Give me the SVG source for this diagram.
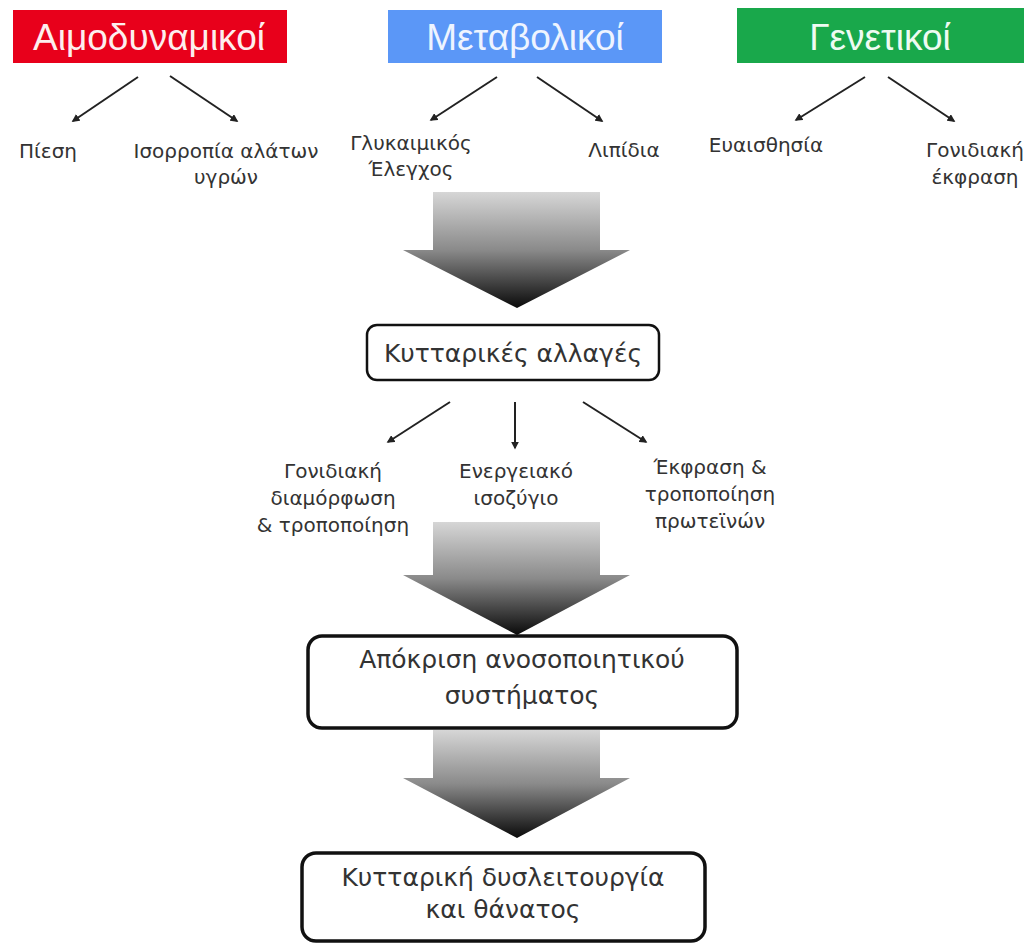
<svg xmlns="http://www.w3.org/2000/svg" width="1030" height="944" viewBox="0 0 1030 944">
<defs>
<style>
.hdr{font-family:"Liberation Sans","DejaVu Sans",sans-serif;font-size:37px;text-anchor:middle}
.lbl{font-family:"DejaVu Sans","Liberation Sans",sans-serif;font-size:20px;fill:#333;text-anchor:middle}
.box{fill:#fff;stroke:#111}
.btx{font-family:"DejaVu Sans","Liberation Sans",sans-serif;font-size:25px;fill:#333;text-anchor:middle}
.ln{stroke:#222;stroke-width:2;fill:none;marker-end:url(#ah)}
.big{fill:url(#g)}
</style>
<marker id="ah" viewBox="0 0 10 10" refX="8" refY="5" markerWidth="4" markerHeight="4" orient="auto">
<path d="M0,0 L10,5 L0,10 z" fill="#222"/>
</marker>
<linearGradient id="g" x1="0" y1="0" x2="0" y2="1">
<stop offset="0" stop-color="#d6d6d6"/>
<stop offset="0.5" stop-color="#8a8a8a"/>
<stop offset="1" stop-color="#0a0a0a"/>
</linearGradient>
</defs>
<rect width="1030" height="944" fill="#fff"/>

<g id="hemodynamic">
<rect x="13" y="10" width="274" height="53" fill="#e8001b"/>
<text class="hdr" x="149" y="50" fill="#fdeeee">Αιμοδυναμικοί</text>
</g>
<g id="metabolic">
<rect x="388" y="10" width="274" height="53" fill="#5b97f7"/>
<text class="hdr" x="525" y="50" fill="#eef4ff">Μεταβολικοί</text>
</g>
<g id="genetic">
<rect x="737" y="8" width="287" height="55" fill="#19a84b"/>
<text class="hdr" x="880" y="50" fill="#eefbf2">Γενετικοί</text>
</g>

<g id="pressure"><text class="lbl" x="48" y="158">Πίεση</text></g>
<g id="salt-balance"><text class="lbl" x="226" y="158">Ισορροπία αλάτων</text><text class="lbl" x="226" y="184">υγρών</text></g>
<g id="glycemic"><text class="lbl" x="411" y="150">Γλυκαιμικός</text><text class="lbl" x="411" y="176">Έλεγχος</text></g>
<g id="lipids"><text class="lbl" x="624" y="157">Λιπίδια</text></g>
<g id="sensitivity"><text class="lbl" x="766" y="152">Ευαισθησία</text></g>
<g id="gene-expression"><text class="lbl" x="975" y="157">Γονιδιακή</text><text class="lbl" x="975" y="184">έκφραση</text></g>

<g id="cell-changes">
<rect class="box" x="367" y="325" width="292" height="55" rx="10" stroke-width="2.5"/>
<text class="btx" x="513" y="362">Κυτταρικές αλλαγές</text>
</g>

<g id="gene-modulation"><text class="lbl" x="333" y="478">Γονιδιακή</text><text class="lbl" x="333" y="505">διαμόρφωση</text><text class="lbl" x="333" y="532">&amp; τροποποίηση</text></g>
<g id="energy-balance"><text class="lbl" x="516" y="478">Ενεργειακό</text><text class="lbl" x="516" y="505">ισοζύγιο</text></g>
<g id="protein-expression"><text class="lbl" x="710" y="474">Έκφραση &amp;</text><text class="lbl" x="710" y="501">τροποποίηση</text><text class="lbl" x="710" y="528">πρωτεϊνών</text></g>

<g id="immune-response">
<rect class="box" x="308" y="636" width="429" height="92" rx="14" stroke-width="3.5"/>
<text class="btx" x="522" y="668">Απόκριση ανοσοποιητικού</text>
<text class="btx" x="522" y="704">συστήματος</text>
</g>

<g id="cell-death">
<rect class="box" x="302" y="853" width="403" height="88" rx="14" stroke-width="3.5"/>
<text class="btx" x="503" y="886">Κυτταρική δυσλειτουργία</text>
<text class="btx" x="503" y="918">και θάνατος</text>
</g>

<g id="connectors">
<line class="ln" x1="138" y1="77" x2="73" y2="121"/>
<line class="ln" x1="170" y1="76" x2="237" y2="121"/>
<line class="ln" x1="497" y1="77" x2="431" y2="120"/>
<line class="ln" x1="537" y1="77" x2="602" y2="121"/>
<line class="ln" x1="865" y1="77" x2="796" y2="120"/>
<line class="ln" x1="888" y1="77" x2="954" y2="121"/>
<line class="ln" x1="450" y1="402" x2="388" y2="442"/>
<line class="ln" x1="515" y1="402" x2="515" y2="448"/>
<line class="ln" x1="583" y1="402" x2="646" y2="442"/>
<path class="big" d="M433,192 H600 V250 H630 L517,308 L403,250 H433 Z"/>
<path class="big" d="M433,522 H600 V575 H630 L517,635 L403,575 H433 Z"/>
<path class="big" d="M433,730 H600 V778 H630 L517,838 L403,778 H433 Z"/>
</g>
</svg>
